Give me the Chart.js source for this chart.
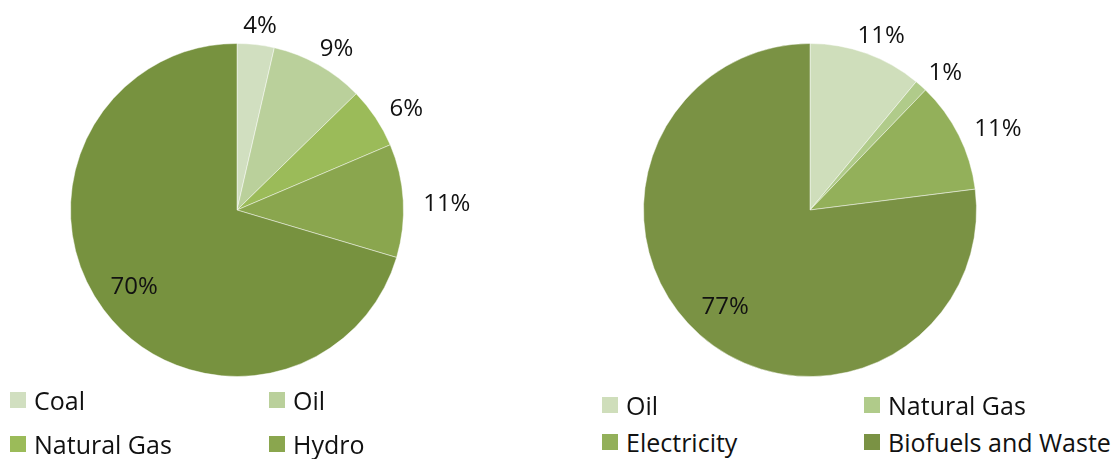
<!DOCTYPE html>
<html>
<head>
<meta charset="utf-8">
<script src="https://cdn.jsdelivr.net/npm/chart.js@4/dist/chart.umd.min.js"></script>
<style>
  body { margin:0; background:#fff; font-family:"Open Sans", sans-serif; }
  #wrap { position:relative; width:1118px; height:459px; overflow:hidden; }
  canvas { position:absolute; top:0; }
  .lg { position:absolute; font-size:25px; color:#111; white-space:nowrap; height:30px; display:flex; align-items:center; }
  .lg span { display:block; width:16px; height:16px; margin-right:8px; }
</style>
</head>
<body>
<div id="wrap">
  <canvas id="leftPie" width="474" height="420" style="left:0"></canvas>
  <canvas id="rightPie" width="474" height="420" style="left:573px"></canvas>
</div>
<script>
// left chart
var leftLabels = ["Coal", "Oil", "Natural Gas", "Hydro", "Other"];
var leftValues = [3.6, 9.1, 5.9, 11.0, 70.4];
var leftColors = ["#d1dfc0", "#bad09b", "#9bbb59", "#8aa64e", "#77923f"];

// right chart
var rightLabels = ["Oil", "Natural Gas", "Electricity", "Biofuels and Waste"];
var rightValues = [11.0, 1.2, 10.8, 77.0];
var rightColors = ["#cfdebb", "#b0cb8a", "#93b05a", "#7a9244"];

// percent labels: big slices inside, small ones just outside the rim
var sliceLabels = {
    id: 'sliceLabels',
    afterDatasetsDraw: function(chart) {
        var ctx = chart.ctx;
        var meta = chart.getDatasetMeta(0);
        var vals = chart.data.datasets[0].data;
        var total = vals.reduce(function(a, b){ return a + b; }, 0);
        ctx.save();
        ctx.font = '24px "Open Sans", sans-serif';
        ctx.fillStyle = '#111';
        ctx.textAlign = 'center';
        ctx.textBaseline = 'middle';
        meta.data.forEach(function(arc, i) {
            var pct = vals[i] / total * 100;
            var txt = Math.round(pct) + '%';
            var mid = (arc.startAngle + arc.endAngle) / 2;
            var c = Math.cos(mid), s = Math.sin(mid);
            var x, y;
            if (pct > 30) {
                x = arc.x + c * arc.outerRadius * 0.77;
                y = arc.y + s * arc.outerRadius * 0.77;
            } else {
                var w = ctx.measureText(txt).width;
                x = arc.x + c * arc.outerRadius + c * (w / 2 + 20);
                y = arc.y + s * arc.outerRadius + s * (10 + 14) + 4;
            }
            ctx.fillText(txt, x, y + 1);
        });
        ctx.restore();
    }
};

function makePie(id, labels, values, colors) {
    var cfg = {
        type: 'pie',
        data: {
            labels: labels,
            datasets: [{
                data: values,
                backgroundColor: colors,
                borderColor: 'rgba(255,255,255,0.45)',
                borderWidth: 1
            }]
        },
        options: {
            responsive: false,
            animation: false,
            layout: { padding: { top: 43, bottom: 43, left: 70, right: 70 } },
            plugins: { legend: { display: false }, tooltip: { enabled: false } }
        },
        plugins: [sliceLabels]
    };
    return new Chart(document.getElementById(id), cfg);
}

makePie("leftPie", leftLabels, leftValues, leftColors);
makePie("rightPie", rightLabels, rightValues, rightColors);

// legends, two columns each (left one only lists the first four)
function addLegend(labels, colors, count, x1, x2, y1, y2) {
    var wrap = document.getElementById('wrap');
    for (var i = 0; i < count; i++) {
        var d = document.createElement('div');
        d.className = 'lg';
        d.style.left = (i % 2 == 0 ? x1 : x2) + 'px';
        d.style.top = ((i < 2 ? y1 : y2) - 15) + 'px';
        d.innerHTML = '<span style="background:' + colors[i] + '"></span>' + labels[i];
        wrap.appendChild(d);
    }
}
addLegend(leftLabels, leftColors, 4, 10, 269, 400, 444);
addLegend(rightLabels, rightColors, 4, 602, 864, 405, 442);
</script>
</body>
</html>
